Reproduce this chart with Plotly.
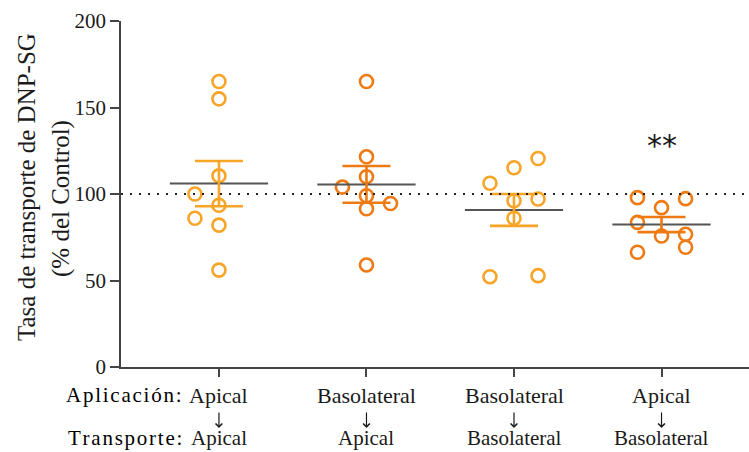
import plotly.graph_objects as go
import numpy as np

# ---- data ----
application = ["Apical", "Basolateral", "Basolateral", "Apical"]
transport = ["Apical", "Apical", "Basolateral", "Basolateral"]
g1_values = [165, 155, 110.5, 100, 93.5, 86, 82, 56]
g1_slot = [0, 0, 0, -1, 0, -1, 0, 0]
g2_values = [165, 121.5, 110, 104, 99, 94.5, 91.5, 59]
g2_slot = [0, 0, 0, -1, 0, 1, 0, 0]
g3_values = [106.2, 115.2, 120.5, 96.1, 97.1, 86, 52.2, 52.8]
g3_slot = [-1, 0, 1, 0, 1, 0, -1, 1]
g4_values = [97.9, 97.3, 92.1, 83.6, 75.7, 76.7, 69.2, 66.3]
g4_slot = [-1, 1, 0, -1, 0, 1, 1, -1]
groups = [g1_values, g2_values, g3_values, g4_values]
slots = [g1_slot, g2_slot, g3_slot, g4_slot]
colors = ["#F8A426", "#EE7A14", "#F8A426", "#EE7A14"]
control_level = 100
significance = "**"
sig_y = 128
y_ticks = [0, 50, 100, 150, 200]
y_title_1 = "Tasa de transporte de DNP-SG"
y_title_2 = "(% del Control)"
row_labels = ["Aplicación:", "Transporte:"]

FONT = "Liberation Serif"
INK = "#1a1a1a"
W, H = 749, 452
L, R, T, B = 121, 0, 21, 85
PW, PH = W - L - R, H - T - B


def px_x(p):
    return (p - L) / PW


def px_y(p):
    return (H - B - p) / PH


def spaced(s):
    gap = '<span style="font-size:7px"> </span>'
    return gap.join(list(s))


fig = go.Figure()

for i, (vals, sl, col) in enumerate(zip(groups, slots, colors)):
    v = np.array(vals, dtype=float)
    mean = v.mean()
    sem = v.std(ddof=1) / np.sqrt(len(v))
    xs = [i + 0.163 * s for s in sl]
    fig.add_trace(go.Scatter(
        x=xs, y=vals, mode="markers",
        marker=dict(symbol="circle-open", size=13, color=col, line=dict(width=2.6, color=col)),
        showlegend=False, hoverinfo="y"))
    fig.add_trace(go.Scatter(
        x=[i - 0.333, i + 0.333], y=[mean, mean], mode="lines",
        line=dict(color="#555555", width=2), showlegend=False, hoverinfo="skip"))
    fig.add_trace(go.Scatter(
        x=[i], y=[mean], mode="markers", marker=dict(size=1, color="rgba(0,0,0,0)"),
        error_y=dict(type="data", array=[sem], color=col, thickness=2.6, width=24),
        showlegend=False, hoverinfo="skip"))

fig.add_hline(y=control_level, line=dict(color="#222222", width=2, dash="2px,7px"))

fig.add_annotation(x=3, y=sig_y, text=significance, showarrow=False,
                   font=dict(family="DejaVu Sans", size=30, color=INK))

# category label rows
for i, (a, t) in enumerate(zip(application, transport)):
    fig.add_annotation(x=i, y=px_y(395), xref="x", yref="paper", text=a, showarrow=False,
                       yanchor="middle", borderpad=0,
                       font=dict(family=FONT, size=22, color=INK))
    fig.add_annotation(x=i, y=px_y(428), xref="x", yref="paper", text="", showarrow=True,
                       ax=0, ay=-17, arrowhead=4, arrowsize=1.1, arrowwidth=1.2,
                       arrowcolor=INK, standoff=0, startstandoff=0)
    fig.add_annotation(x=i, y=px_y(438), xref="x", yref="paper", text=t, showarrow=False,
                       yanchor="middle", borderpad=0,
                       font=dict(family=FONT, size=21, color=INK))

for label, yy in zip(row_labels, [395, 438]):
    fig.add_annotation(x=px_x(183), y=px_y(yy), xref="paper", yref="paper",
                       text=spaced(label), showarrow=False, xanchor="right", yanchor="middle",
                       borderpad=0, font=dict(family=FONT, size=21, color="#000000"))

fig.add_annotation(x=px_x(26), y=px_y(187), xref="paper", yref="paper", text=y_title_1,
                   textangle=-90, showarrow=False, xanchor="center", yanchor="middle",
                   font=dict(family=FONT, size=25, color=INK))
fig.add_annotation(x=px_x(61), y=px_y(198), xref="paper", yref="paper", text=y_title_2,
                   textangle=-90, showarrow=False, xanchor="center", yanchor="middle",
                   font=dict(family=FONT, size=25, color=INK))

fig.update_layout(
    width=W, height=H,
    margin=dict(l=L, r=R, t=T, b=B),
    plot_bgcolor="white", paper_bgcolor="white",
    font=dict(family=FONT, size=21, color=INK),
    xaxis=dict(range=[-0.664, 3.593], tickmode="array", tickvals=[0, 1, 2, 3],
               showticklabels=False, showgrid=False, zeroline=False,
               showline=True, linecolor="#444444", linewidth=1.5,
               ticks="outside", ticklen=8, tickcolor="#444444", tickwidth=1.5),
    yaxis=dict(range=[0, 200], tickvals=y_ticks, showgrid=False, zeroline=False,
               showline=True, linecolor="#444444", linewidth=1.5,
               ticks="outside", ticklen=9, tickcolor="#444444", tickwidth=1.5,
               tickfont=dict(family=FONT, size=21, color=INK)),
)

fig.write_html("out.html")
